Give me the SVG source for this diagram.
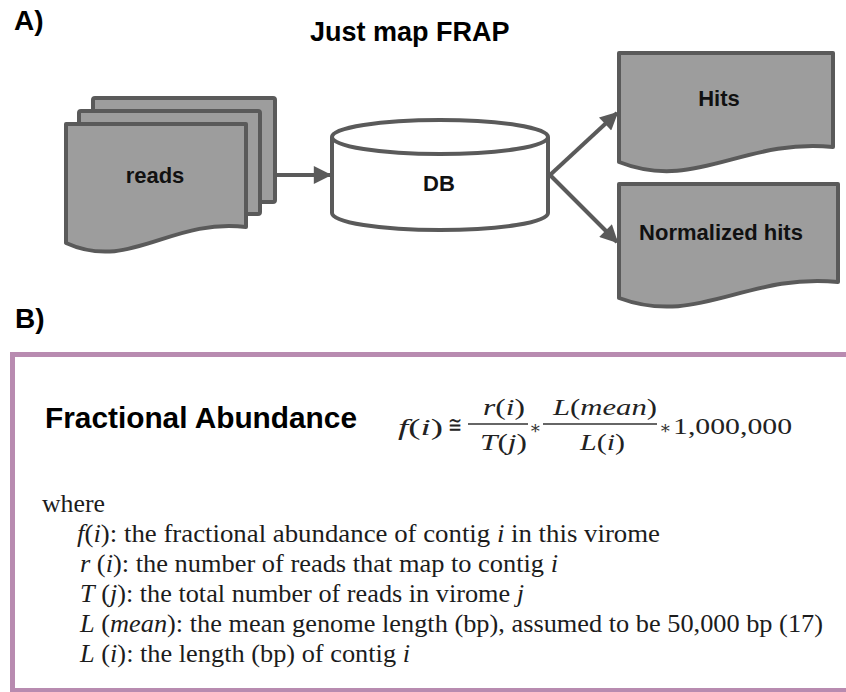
<svg xmlns="http://www.w3.org/2000/svg" width="846" height="692" viewBox="0 0 846 692">
<defs>
<style>
.doc{fill:#9d9d9d;stroke:#5a5a5a;stroke-width:4;stroke-linejoin:round}
.cyl{fill:#ffffff;stroke:#5a5a5a;stroke-width:4;stroke-linejoin:round}
.lbl{font-family:"Liberation Sans",Arial,sans-serif;font-weight:bold;font-size:22px;fill:#111;text-anchor:middle}
.hdr{font-family:"Liberation Sans",Arial,sans-serif;font-weight:bold;fill:#000}
.conn{stroke:#5a5a5a;stroke-width:4;fill:none}
.math{font-family:"Liberation Serif","DejaVu Serif",serif;font-size:24px;fill:#222}
.ast{font-family:"DejaVu Serif",serif;font-size:18px;fill:#333;text-anchor:middle}
.txt{font-family:"Liberation Serif","Times New Roman",serif;font-size:26px;fill:#1c1c1c}
.it{font-style:italic}
.bar{stroke:#333;stroke-width:1.6}
</style>
<marker id="arr" viewBox="0 0 10 10" refX="9" refY="5" markerWidth="5.5" markerHeight="4.5" markerUnits="strokeWidth" orient="auto">
<path d="M0,0 L10,5 L0,10 Z" fill="#5a5a5a"/>
</marker>
</defs>
<rect width="846" height="692" fill="#ffffff"/>

<text class="hdr" x="14" y="30" font-size="28">A)</text>
<text class="hdr" x="310" y="41" font-size="27">Just map FRAP</text>

<g id="reads">
<rect class="doc" x="93" y="98" width="182" height="104" rx="2"/>
<rect class="doc" x="79" y="111" width="181" height="103" rx="2"/>
<path class="doc" d="M66,124 H246 V227 C170,218 130,272 66,243 Z"/>
<text class="lbl" x="155" y="183">reads</text>
</g>

<g id="db">
<path class="cyl" d="M332,137 A108,17 0 0 1 548,137 V213 A108,17 0 0 1 332,213 Z"/>
<path class="cyl" d="M332,137 A108,17 0 0 0 548,137" fill="none"/>
<text class="lbl" x="439" y="191">DB</text>
</g>

<g id="hits">
<path class="doc" d="M619,53 H833 V147 C743,138 695,192 619,162 Z"/>
<text class="lbl" x="719" y="106">Hits</text>
</g>

<g id="normalized">
<path class="doc" d="M619,184 H838 V282 C746,273 697,327 619,298 Z"/>
<text class="lbl" x="721" y="240">Normalized hits</text>
</g>

<g id="connectors">
<line class="conn" x1="275" y1="175" x2="330" y2="175" marker-end="url(#arr)"/>
<line class="conn" x1="550" y1="175" x2="617" y2="113" marker-end="url(#arr)"/>
<line class="conn" x1="550" y1="175" x2="617" y2="242" marker-end="url(#arr)"/>
</g>

<text class="hdr" x="15" y="328" font-size="28">B)</text>

<g id="panelB">
<rect x="12.5" y="354.5" width="850" height="336" fill="none" stroke="#b88bb0" stroke-width="5"/>
<text class="hdr" x="45" y="428" font-size="29" textLength="312" lengthAdjust="spacingAndGlyphs">Fractional Abundance</text>

<g id="formula">
<text class="math" x="398" y="435" textLength="45" lengthAdjust="spacingAndGlyphs"><tspan class="it">f</tspan>(<tspan class="it">i</tspan>)</text>
<text class="math" x="448" y="433" textLength="14" lengthAdjust="spacingAndGlyphs">≅</text>
<line class="bar" x1="468" y1="424" x2="528" y2="424"/>
<text class="math" x="483" y="415" textLength="42" lengthAdjust="spacingAndGlyphs"><tspan class="it">r</tspan>(<tspan class="it">i</tspan>)</text>
<text class="math" x="480" y="450" textLength="47" lengthAdjust="spacingAndGlyphs"><tspan class="it">T</tspan>(<tspan class="it">j</tspan>)</text>
<text class="ast" x="535" y="434">∗</text>
<line class="bar" x1="543" y1="424" x2="657" y2="424"/>
<text class="math" x="553" y="415" textLength="104" lengthAdjust="spacingAndGlyphs"><tspan class="it">L</tspan>(<tspan class="it">mean</tspan>)</text>
<text class="math" x="580" y="450" textLength="45" lengthAdjust="spacingAndGlyphs"><tspan class="it">L</tspan>(<tspan class="it">i</tspan>)</text>
<text class="ast" x="665" y="434">∗</text>
<text class="math" x="673" y="434" textLength="119" lengthAdjust="spacingAndGlyphs">1,000,000</text>
</g>

<g id="legend">
<text class="txt" x="42" y="512" textLength="63" lengthAdjust="spacingAndGlyphs">where</text>
<text class="txt" x="77" y="542" textLength="583" lengthAdjust="spacingAndGlyphs"><tspan class="it">f</tspan>(<tspan class="it">i</tspan>): the fractional abundance of contig <tspan class="it">i</tspan> in this virome</text>
<text class="txt" x="80" y="572" textLength="478" lengthAdjust="spacingAndGlyphs"><tspan class="it">r</tspan> (<tspan class="it">i</tspan>): the number of reads that map to contig <tspan class="it">i</tspan></text>
<text class="txt" x="80" y="602" textLength="444" lengthAdjust="spacingAndGlyphs"><tspan class="it">T</tspan> (<tspan class="it">j</tspan>): the total number of reads in virome <tspan class="it">j</tspan></text>
<text class="txt" x="80" y="632" textLength="743" lengthAdjust="spacingAndGlyphs"><tspan class="it">L</tspan> (<tspan class="it">mean</tspan>): the mean genome length (bp), assumed to be 50,000 bp (17)</text>
<text class="txt" x="80" y="662" textLength="330" lengthAdjust="spacingAndGlyphs"><tspan class="it">L</tspan> (<tspan class="it">i</tspan>): the length (bp) of contig <tspan class="it">i</tspan></text>
</g>
</g>
</svg>
